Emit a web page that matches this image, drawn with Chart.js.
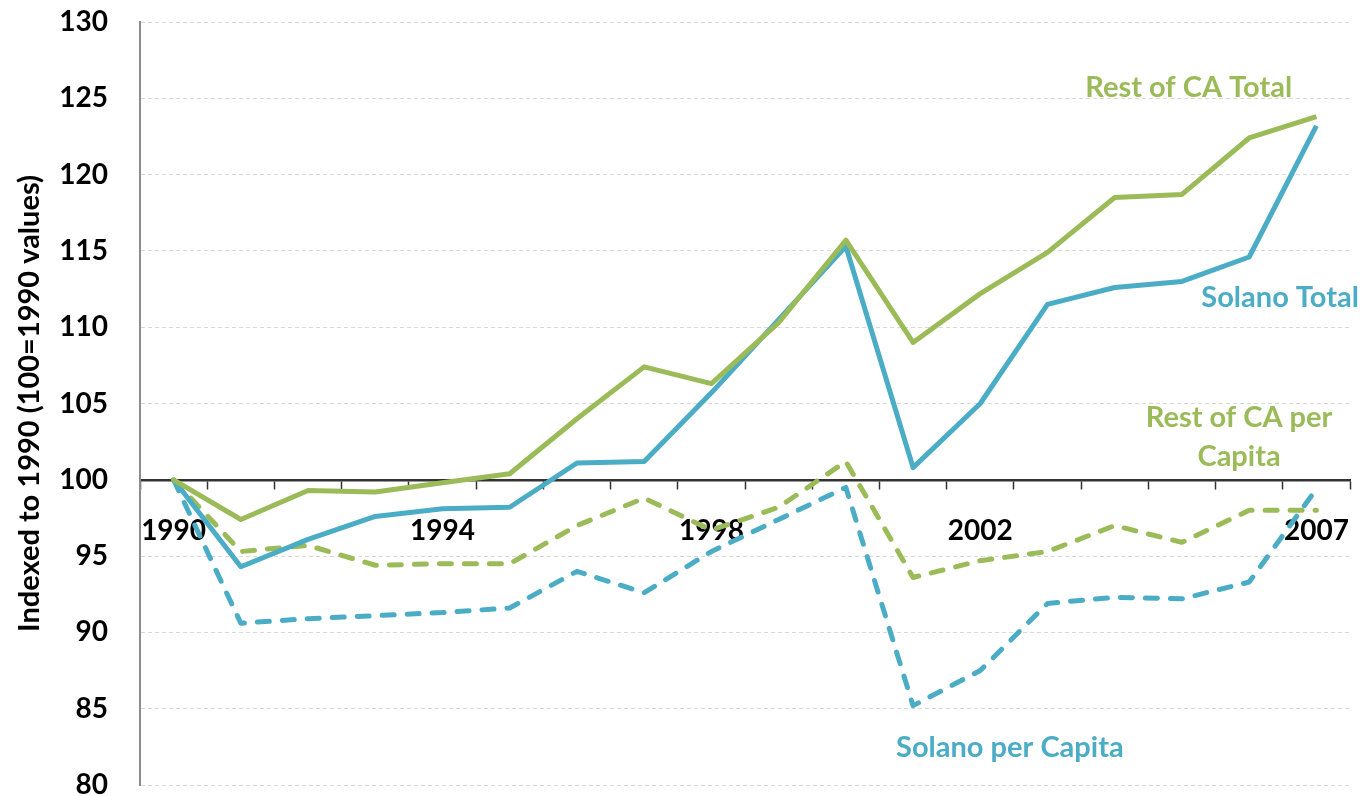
<!DOCTYPE html>
<html>
<head>
<meta charset="utf-8">
<script src="https://cdn.jsdelivr.net/npm/chart.js@4/dist/chart.umd.min.js"></script>
<style>
  html, body { margin: 0; padding: 0; background: #fff; }
</style>
</head>
<body>
<canvas id="chart" width="1368" height="796"></canvas>
<script>
const years = ['1990', '1991', '1992', '1993', '1994', '1995', '1996', '1997', '1998',
  '1999', '2000', '2001', '2002', '2003', '2004', '2005', '2006', '2007'];
const shownYears = ['1990', '1994', '1998', '2002', '2007'];

const restTotal = [100, 97.4, 99.3, 99.2, 99.8, 100.4, 104.0, 107.4, 106.3,
  110.3, 115.7, 109.0, 112.2, 114.9, 118.5, 118.7, 122.4, 123.8];
const solanoTotal = [100, 94.3, 96.1, 97.6, 98.1, 98.2, 101.1, 101.2, 105.7,
  110.5, 115.3, 100.8, 105.0, 111.5, 112.6, 113.0, 114.6, 123.2];
const restPerCapita = [100, 95.3, 95.7, 94.4, 94.5, 94.5, 97.0, 98.8, 96.7,
  98.2, 101.2, 93.6, 94.7, 95.3, 97.0, 95.9, 98.0, 98.0];
const solanoPerCapita = [100, 90.6, 90.9, 91.1, 91.3, 91.6, 94.0, 92.6, 95.3,
  97.4, 99.5, 85.2, 87.5, 91.9, 92.3, 92.2, 93.3, 99.4];

// series labels placed in data space (category index, value)
const noteTexts = ['Rest of CA Total', 'Solano Total', 'Rest of CA per', 'Capita', 'Solano per Capita'];
const noteX = [15.10, 16.46, 15.85, 15.85, 12.44];
const noteY = [125.67, 111.91, 104.05, 101.5, 82.42];

const GREEN = '#9bbb59';
const BLUE = '#4bacc6';
const noteColors = [GREEN, BLUE, GREEN, GREEN, BLUE];
const FONT = 'Lato, "Noto Sans", sans-serif';

const notesPlugin = {
  id: 'notes',
  afterDatasetsDraw(chart) {
    const { ctx, scales } = chart;
    ctx.save();
    ctx.font = 'bold 29px ' + FONT;
    ctx.textAlign = 'center';
    ctx.textBaseline = 'middle';
    noteTexts.forEach((t, i) => {
      ctx.fillStyle = noteColors[i];
      ctx.fillText(t, scales.x.getPixelForValue(noteX[i]), scales.y.getPixelForValue(noteY[i]));
    });
    ctx.restore();
  }
};

const line = (data, color, dashed) => ({
  data,
  borderColor: color,
  backgroundColor: color,
  borderWidth: 5,
  borderDash: dashed ? [12, 13] : [],
  borderCapStyle: dashed ? 'round' : 'butt',
  borderJoinStyle: 'round',
  pointRadius: 0,
  tension: 0,
  fill: false
});

new Chart(document.getElementById('chart'), {
  type: 'line',
  data: {
    labels: years,
    datasets: [
      line(restTotal, GREEN, false),
      line(solanoTotal, BLUE, false),
      line(restPerCapita, GREEN, true),
      line(solanoPerCapita, BLUE, true)
    ]
  },
  options: {
    responsive: false,
    animation: false,
    layout: { padding: { top: 22, right: 18, bottom: 11, left: 0 } },
    plugins: {
      legend: { display: false },
      tooltip: { enabled: false }
    },
    scales: {
      x: {
        type: 'category',
        position: { y: 100 },
        offset: true,
        afterFit: (scale) => { scale.paddingLeft = 0; scale.paddingRight = 0; },
        grid: {
          offset: true,
          drawOnChartArea: false,
          drawTicks: true,
          tickLength: 8,
          tickColor: '#333',
          tickWidth: 1.5
        },
        border: { display: true, color: '#333', width: 2.5 },
        ticks: {
          autoSkip: false,
          maxRotation: 0,
          padding: 26,
          color: '#000',
          font: { family: FONT, size: 28, weight: 'bold' },
          callback: (v, i) => (shownYears.includes(years[i]) ? years[i] : '')
        }
      },
      y: {
        min: 80,
        max: 130,
        afterFit: (scale) => {
          scale.width = 140;
          scale.paddingTop = 0;
          scale.paddingBottom = 0;
        },
        grid: { color: '#d9d9d9', lineWidth: 1, drawTicks: false },
        border: { display: true, color: '#8c8c8c', width: 2, dash: [4, 3] },
        ticks: {
          stepSize: 5,
          padding: 32,
          color: '#000',
          font: { family: FONT, size: 28, weight: 'bold' }
        },
        title: {
          display: true,
          text: 'Indexed to 1990 (100=1990 values)',
          color: '#000',
          padding: { top: 12, bottom: 0 },
          font: { family: FONT, size: 29, weight: 'bold' }
        }
      }
    }
  },
  plugins: [notesPlugin]
});
</script>
</body>
</html>
